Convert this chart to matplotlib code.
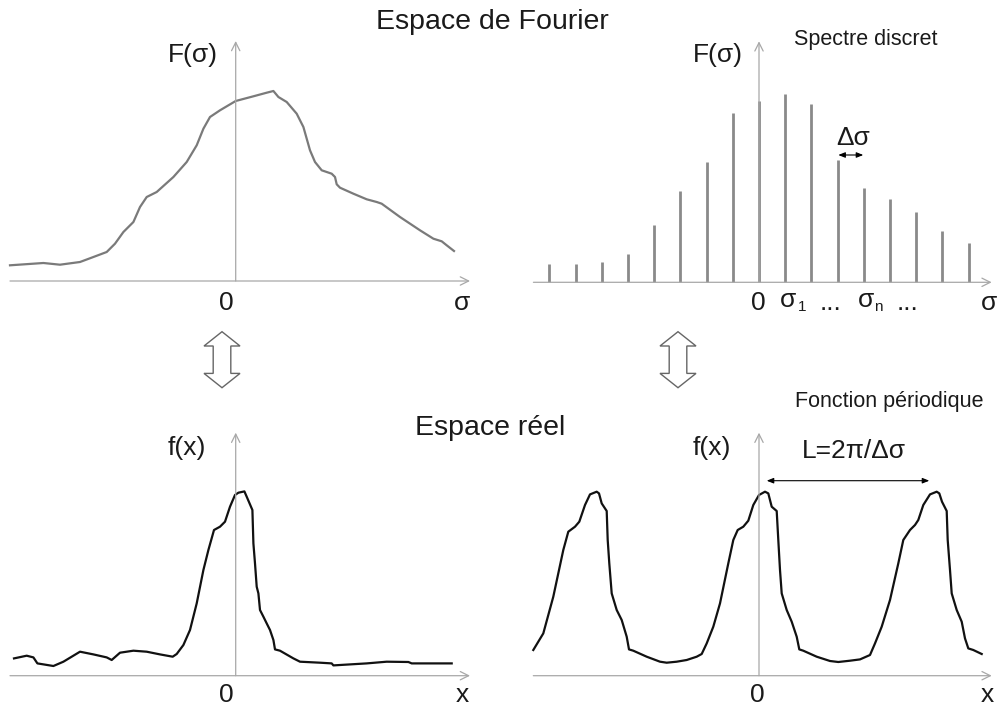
import numpy as np
import matplotlib
matplotlib.use('Agg')
import matplotlib.pyplot as plt
from matplotlib.patches import Polygon

plt.rcParams['font.family'] = ['Liberation Sans', 'DejaVu Sans']

W, H = 998, 706

# continuous spectrum F(sigma) (top left)
spec_x = [-2.257, -1.923, -1.757, -1.557, -1.423, -1.29, -1.207, -1.123, -1.023, -0.957,
          -0.89, -0.79, -0.623, -0.49, -0.39, -0.323, -0.257, -0.157, 0.0, 0.177,
          0.31, 0.377, 0.427, 0.51, 0.61, 0.677, 0.743, 0.793, 0.86, 0.96,
          0.993, 1.01, 1.043, 1.177, 1.31, 1.41, 1.46, 1.643, 1.843, 1.977,
          2.06, 2.11, 2.183]
spec_y = [0.157, 0.18, 0.163, 0.19, 0.24, 0.29, 0.373, 0.49, 0.59, 0.74,
          0.84, 0.89, 1.04, 1.19, 1.357, 1.523, 1.64, 1.707, 1.8, 1.847,
          1.883, 1.9, 1.84, 1.79, 1.673, 1.54, 1.307, 1.19, 1.107, 1.073,
          1.04, 0.967, 0.933, 0.873, 0.817, 0.79, 0.773, 0.64, 0.507, 0.423,
          0.397, 0.357, 0.3]

# discrete spectrum (top right), index n of sigma_n = n * dsigma
stem_n = list(range(-8, 9))
stem_h = [0.18, 0.18, 0.2, 0.287, 0.573, 0.917, 1.207, 1.693, 1.817,
          1.883, 1.783, 1.223, 0.943, 0.83, 0.7, 0.517, 0.39]

# f(x) (bottom left)
fx_x = [-2.217, -2.09, -2.023, -1.983, -1.823, -1.723, -1.557, -1.423, -1.29, -1.24,
        -1.157, -1.023, -0.89, -0.757, -0.63, -0.59, -0.523, -0.457, -0.39, -0.323,
        -0.273, -0.217, -0.157, -0.107, -0.057, -0.007, 0.027, 0.087, 0.11, 0.167,
        0.177, 0.193, 0.21, 0.227, 0.243, 0.277, 0.31, 0.343, 0.377, 0.393,
        0.443, 0.577, 0.643, 0.843, 0.96, 0.977, 1.31, 1.51, 1.727, 1.76, 2.16]
fx_y = [0.173, 0.2, 0.183, 0.123, 0.097, 0.14, 0.24, 0.213, 0.183, 0.157,
        0.23, 0.25, 0.24, 0.213, 0.19, 0.217, 0.307, 0.457, 0.723, 1.057,
        1.257, 1.457, 1.49, 1.54, 1.69, 1.807, 1.83, 1.843, 1.79, 1.657,
        1.323, 1.123, 0.89, 0.823, 0.657, 0.59, 0.523, 0.457, 0.357, 0.263,
        0.25, 0.173, 0.14, 0.13, 0.123, 0.103, 0.123, 0.14, 0.137, 0.123, 0.123]

# periodic f(x) (bottom right)
per_x = [-2.257, -2.157, -2.057, -1.957, -1.907, -1.84, -1.797, -1.74, -1.69, -1.623,
         -1.6, -1.573, -1.523, -1.513, -1.497, -1.473, -1.423, -1.373, -1.323, -1.3,
         -1.257, -1.123, -0.99, -0.923, -0.823, -0.723, -0.623, -0.573, -0.523, -0.457,
         -0.39, -0.307, -0.257, -0.213, -0.157, -0.107, -0.057, 0.0, 0.06, 0.093,
         0.127, 0.177, 0.193, 0.21, 0.227, 0.277, 0.327, 0.377, 0.403, 0.443,
         0.577, 0.71, 0.793, 0.91, 1.01, 1.11, 1.16, 1.227, 1.31, 1.393,
         1.443, 1.51, 1.56, 1.593, 1.643, 1.71, 1.777, 1.803, 1.83, 1.877,
         1.887, 1.91, 1.927, 1.977, 2.027, 2.06, 2.093, 2.143, 2.227]
per_y = [0.257, 0.423, 0.79, 1.257, 1.44, 1.49, 1.54, 1.707, 1.813, 1.84,
         1.823, 1.723, 1.647, 1.357, 1.123, 0.823, 0.657, 0.557, 0.39, 0.263,
         0.25, 0.19, 0.14, 0.13, 0.14, 0.157, 0.19, 0.217, 0.323, 0.49,
         0.723, 1.123, 1.357, 1.457, 1.49, 1.55, 1.707, 1.807, 1.84, 1.823,
         1.69, 1.647, 1.357, 1.057, 0.823, 0.657, 0.54, 0.39, 0.263, 0.25,
         0.19, 0.147, 0.137, 0.15, 0.163, 0.207, 0.323, 0.49, 0.757, 1.123,
         1.357, 1.457, 1.507, 1.557, 1.707, 1.813, 1.84, 1.823, 1.74, 1.647,
         1.357, 1.057, 0.823, 0.657, 0.54, 0.373, 0.273, 0.257, 0.217]
period_span = (0.077, 1.703)

fig = plt.figure(figsize=(W / 100, H / 100), dpi=100)
fig.patch.set_facecolor('white')


def panel(x0, x1, y0, y1, ox, oy, sx, sy):
    ax = fig.add_axes([x0 / W, 1 - y1 / H, (x1 - x0) / W, (y1 - y0) / H])
    ax.set_xlim((x0 - ox) / sx, (x1 - ox) / sx)
    ax.set_ylim((oy - y1) / sy, (oy - y0) / sy)
    ax.axis('off')
    return ax


def draw_axes(ax, xmin, xmax, ytop):
    kw = dict(arrowstyle='->,head_length=0.4,head_width=0.2', color='#a8a8a8',
              lw=0.9, shrinkA=0, shrinkB=0, mutation_scale=15)
    ax.annotate('', xy=(xmax, 0), xytext=(xmin, 0), arrowprops=kw)
    ax.annotate('', xy=(0, ytop), xytext=(0, 0), arrowprops=kw)


lab = dict(fontsize=19, ha='center', va='baseline', color='#1a1a1a')
curve = dict(lw=1.6, clip_on=False, solid_joinstyle='round')

# top left: continuous spectrum
ax1 = panel(0, 499, 0, 330, 235.7, 281, 100, 100)
draw_axes(ax1, -2.257, 2.343, 2.4)
ax1.plot(spec_x, spec_y, color='#7a7a7a', **curve)
ax1.text(-0.427, 2.193, 'F(σ)', **lab)
ax1.text(-0.09, -0.29, '0', **lab)
ax1.text(2.268, -0.29, 'σ', **lab)

# top right: discrete spectrum
ax2 = panel(499, 998, 0, 330, 759, 282.3, 26.2, 100)
draw_axes(ax2, -8.61, 8.88, 2.41)
ax2.vlines(stem_n, 0, stem_h, color='#8a8a8a', lw=2.0)
ax2.text(-1.565, 2.206, 'F(σ)', **lab)
ax2.text(-0.03, -0.277, '0', **lab)
ax2.text(1.107, -0.25, 'σ', **lab)
ax2.text(1.66, -0.29, '1', fontsize=11, ha='center', va='baseline', color='#1a1a1a')
ax2.text(2.71, -0.277, '...', **lab)
ax2.text(4.10, -0.25, 'σ', **lab)
ax2.text(4.56, -0.29, 'n', fontsize=11, ha='center', va='baseline', color='#1a1a1a')
ax2.text(5.67, -0.277, '...', **lab)
ax2.text(8.76, -0.277, 'σ', **lab)
ax2.text(3.588, 1.373, 'Δσ', **lab)
ax2.annotate('', xy=(3.98, 1.273), xytext=(3.027, 1.273),
             arrowprops=dict(arrowstyle='<|-|>,head_length=0.5,head_width=0.2', color='black',
                             lw=0.8, shrinkA=0, shrinkB=0, mutation_scale=8))

# bottom left: f(x)
ax3 = panel(0, 499, 330, 706, 235.7, 675.7, 100, 100)
draw_axes(ax3, -2.257, 2.343, 2.43)
ax3.plot(fx_x, fx_y, color='#111111', **curve)
ax3.text(-0.487, 2.207, 'f(x)', **lab)
ax3.text(-0.097, -0.263, '0', **lab)
ax3.text(2.263, -0.263, 'x', **lab)

# bottom right: periodic function
ax4 = panel(499, 998, 330, 706, 759, 675.7, 100, 100)
draw_axes(ax4, -2.257, 2.327, 2.43)
ax4.plot(per_x, per_y, color='#111111', **curve)
ax4.text(-0.47, 2.207, 'f(x)', **lab)
ax4.text(-0.015, -0.263, '0', **lab)
ax4.text(2.28, -0.263, 'x', **lab)
ax4.text(0.95, 2.177, 'L=2π/Δσ', **lab)
ax4.annotate('', xy=(period_span[1], 1.95), xytext=(period_span[0], 1.95),
             arrowprops=dict(arrowstyle='<|-|>,head_length=0.5,head_width=0.2', color='black',
                             lw=0.8, shrinkA=0, shrinkB=0, mutation_scale=8))

# overlay for titles and the hollow double arrows
ov = fig.add_axes([0, 0, 1, 1])
ov.set_xlim(0, W)
ov.set_ylim(H, 0)
ov.axis('off')
ov.patch.set_alpha(0)
ov.text(492.5, 29.3, 'Espace de Fourier', fontsize=20.5, ha='center', va='baseline', color='#1a1a1a')
ov.text(490, 435, 'Espace réel', fontsize=20.5, ha='center', va='baseline', color='#1a1a1a')
ov.text(794, 45, 'Spectre discret', fontsize=15.5, ha='left', va='baseline', color='#1a1a1a')
ov.text(795, 406.7, 'Fonction périodique', fontsize=15.5, ha='left', va='baseline', color='#1a1a1a')


def hollow_arrow(cx, top, bot, hw=18, sw=8.8, hl=14.3):
    pts = [(cx, top), (cx + hw, top + hl), (cx + sw, top + hl), (cx + sw, bot - hl),
           (cx + hw, bot - hl), (cx, bot), (cx - hw, bot - hl), (cx - sw, bot - hl),
           (cx - sw, top + hl), (cx - hw, top + hl)]
    ov.add_patch(Polygon(pts, closed=True, facecolor='white', edgecolor='#666666', lw=1.0))


hollow_arrow(222, 331.7, 387.7)
hollow_arrow(678, 331.7, 387.7)

fig.savefig('out.png', dpi=100)
